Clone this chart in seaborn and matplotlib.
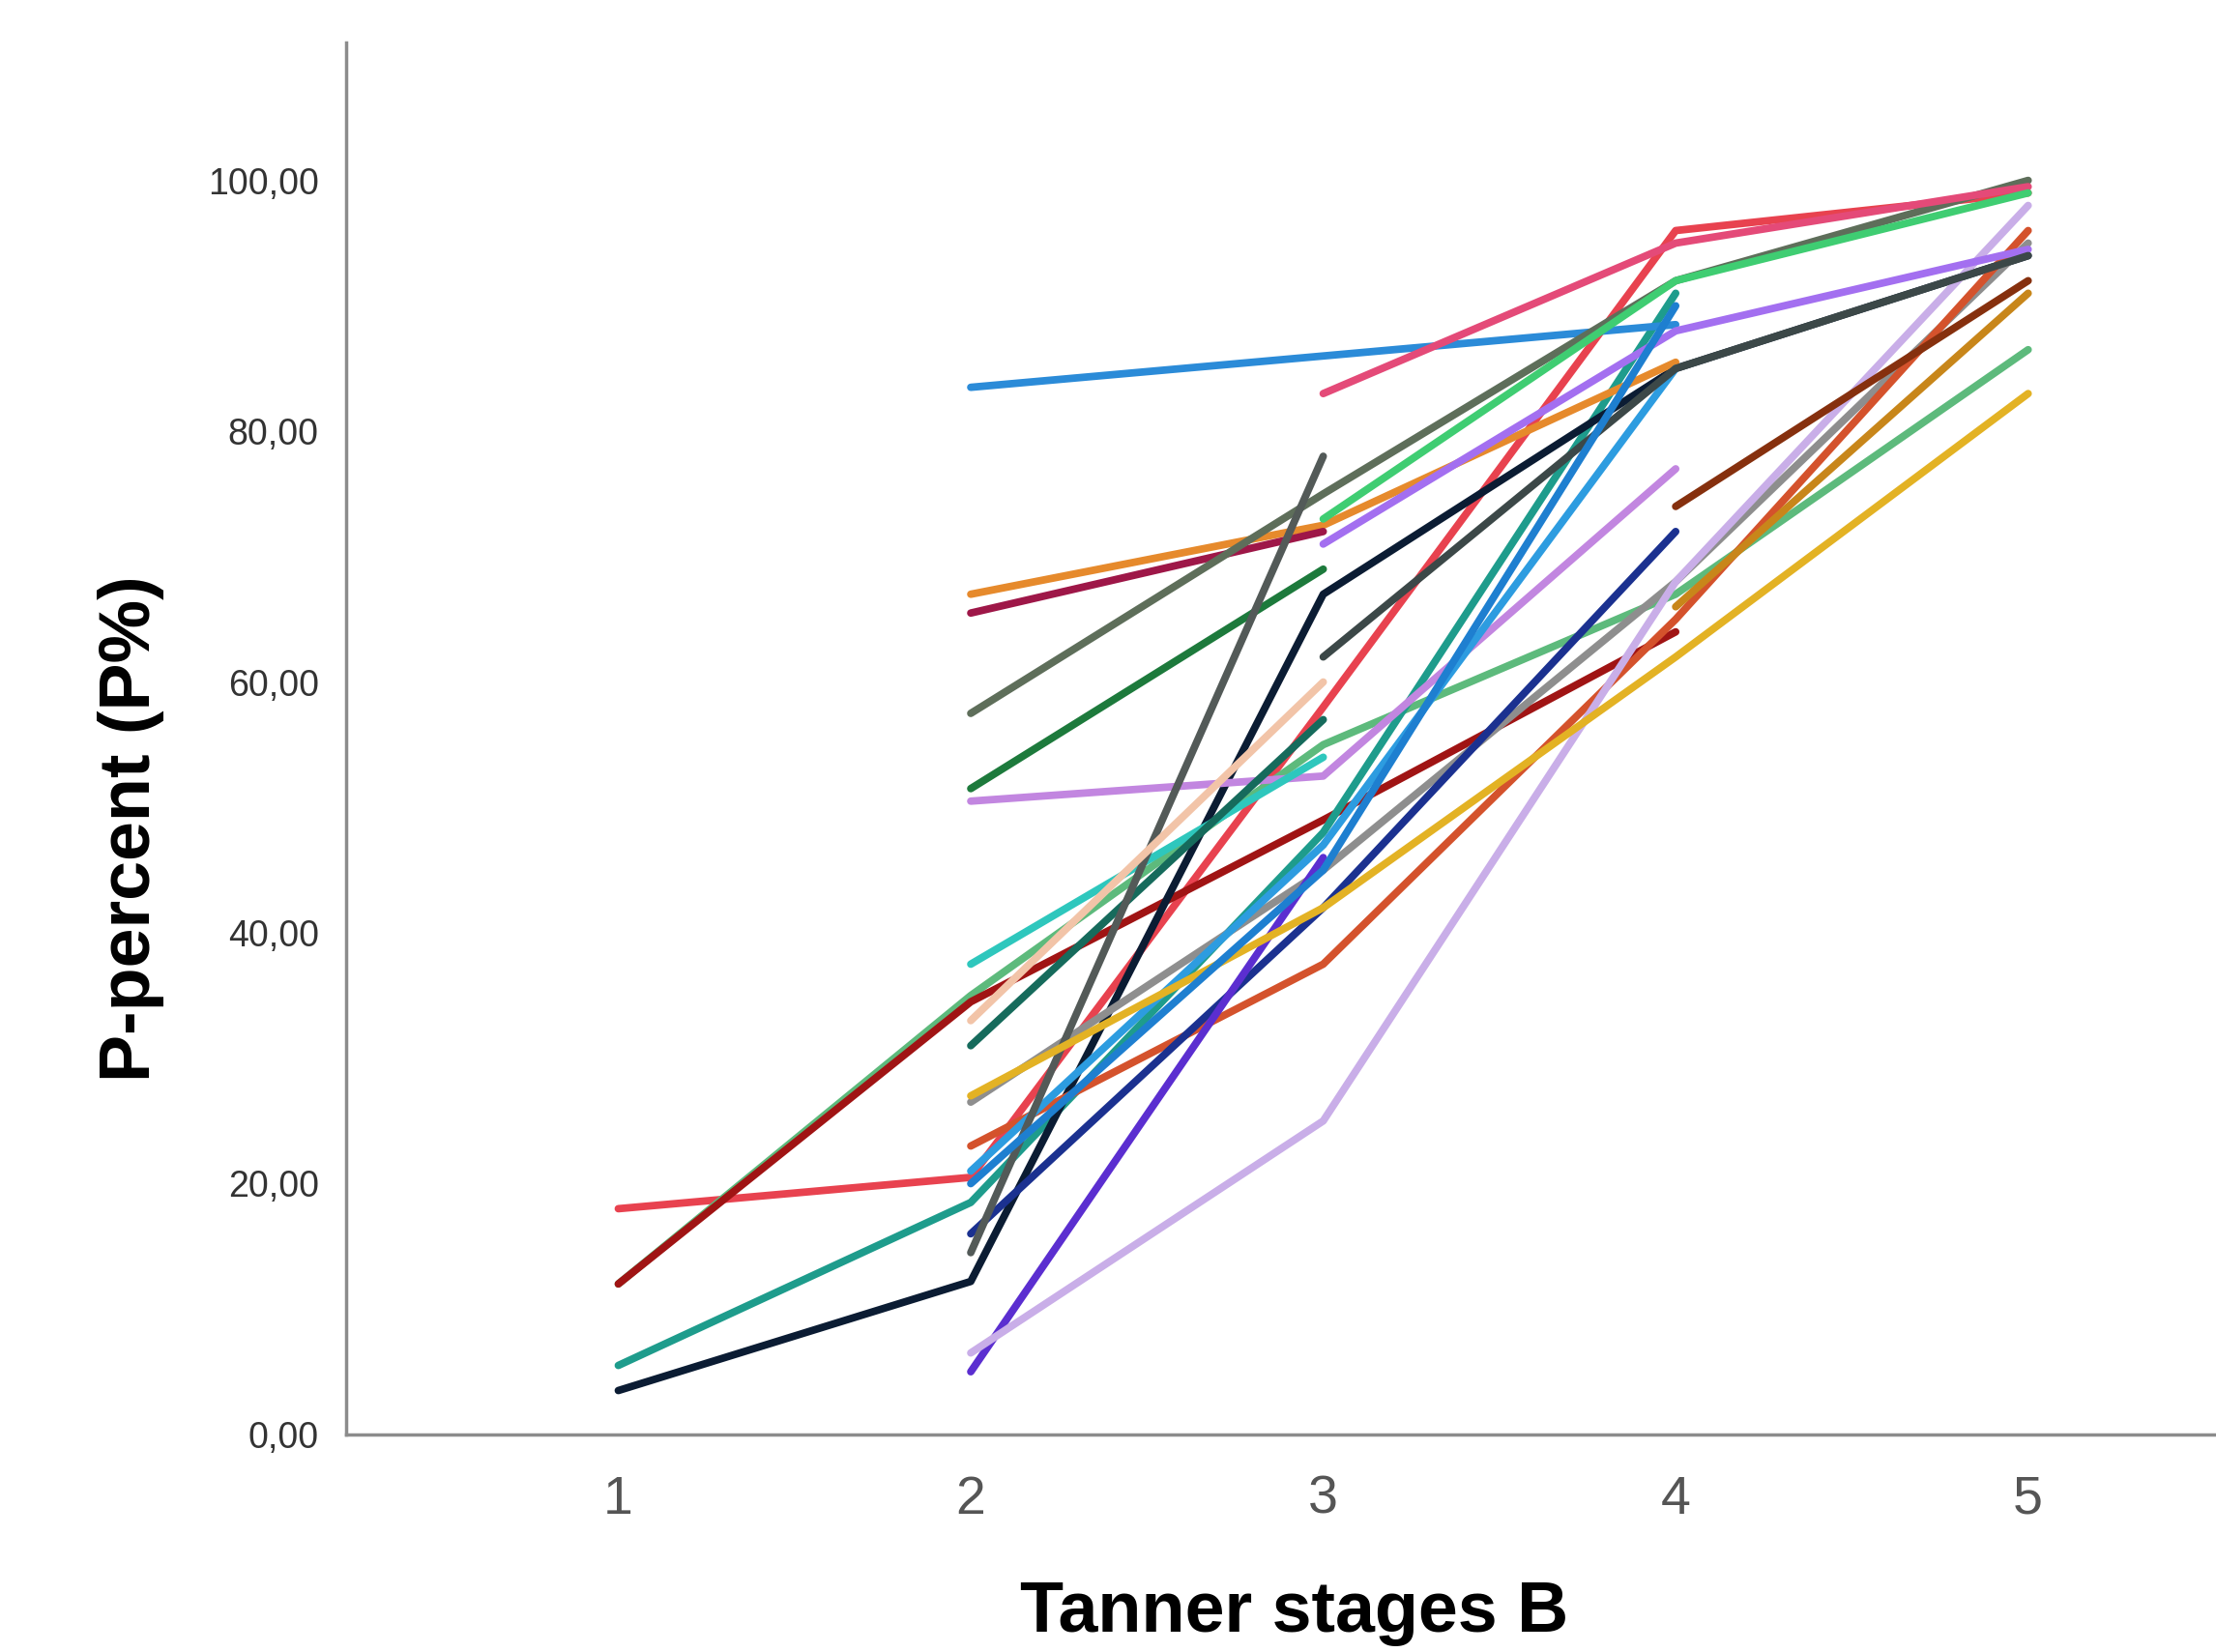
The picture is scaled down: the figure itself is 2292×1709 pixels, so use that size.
import numpy as np
import pandas as pd
import matplotlib
matplotlib.use("Agg")
import matplotlib.pyplot as plt
import seaborn as sns

nan = np.nan

# Tanner stage on x, one list of P% per girl (nan = stage not observed)
stages = [1, 2, 3, 4, 5]

s01 = [18.0, 20.5, 58.0, 96.0, 99.0]
s02 = [12.0, 35.0, 55.0, 67.0, 86.5]
s03 = [12.0, 34.5, 49.0, 64.0, nan]
s04 = [5.5, 18.5, 48.0, 91.0, nan]
s05 = [3.5, 12.2, 67.0, 85.0, 94.0]
s06 = [nan, 83.5, nan, 88.5, nan]
s07 = [nan, 67.0, 72.5, 85.5, nan]
s08 = [nan, 65.5, 72.0, nan, nan]
s09 = [nan, 57.5, 75.0, 92.0, 100.0]
s10 = [nan, 51.5, 69.0, nan, nan]
s11 = [nan, 50.5, 52.5, 77.0, nan]
s12 = [nan, 37.5, 54.0, nan, nan]
s13 = [nan, 31.0, 57.0, nan, nan]
s14 = [nan, 26.5, 45.0, 68.0, 95.0]
s15 = [nan, 23.0, 37.5, 65.0, 96.0]
s16 = [nan, 21.0, 47.0, 85.0, nan]
s17 = [nan, 16.0, 42.0, 72.0, nan]
s18 = [nan, 14.5, 78.0, nan, nan]
s19 = [nan, 5.0, 46.0, nan, nan]
s20 = [nan, 6.5, 25.0, 68.0, 98.0]
s21 = [nan, nan, 83.0, 95.0, 99.5]
s22 = [nan, nan, 73.0, 92.0, 99.0]
s23 = [nan, nan, nan, 74.0, 92.0]
s24 = [nan, 27.0, 42.0, 62.0, 83.0]
s25 = [nan, nan, 71.0, 88.0, 94.5]
s26 = [nan, nan, 62.0, 85.0, 94.0]
s27 = [nan, nan, nan, 66.0, 91.0]
s29 = [nan, 20.0, 45.0, 90.0, nan]
s30 = [nan, 33.0, 60.0, nan, nan]

subjects = [s01, s02, s03, s04, s05, s06, s07, s08, s09, s10, s11, s12, s13, s14,
            s15, s16, s17, s18, s19, s20, s21, s22, s23, s24, s25, s26, s27, s29, s30]

line_colors = ["#e8424f", "#5dba7c", "#a01414", "#1e9c8c", "#0b1c33", "#2b8bd8",
               "#e68a2c", "#9e1748", "#5e6e5a", "#1d7a3c", "#c286e0", "#2ec7bd",
               "#166b5c", "#8e8e8e", "#d4522c", "#2d9ce0", "#1b3190", "#535a58",
               "#5b2ed0", "#c9aee8", "#e44a78", "#3fcd72", "#86300e", "#e3b224",
               "#a36ff0", "#3c4848", "#c8861a", "#1e7fd0", "#f2c4a8"]

ytick_values = [0, 20, 40, 60, 80, 100]
ytick_labels = ["0,00", "20,00", "40,00", "60,00", "80,00", "100,00"]

# long format, dropping unobserved stages so each line bridges gaps
rows = []
for i, vals in enumerate(subjects):
    for st, v in zip(stages, vals):
        if not np.isnan(v):
            rows.append({"subject": f"s{i:02d}", "stage": st, "p": v})
df = pd.DataFrame(rows)

sns.set_style("white")
plt.rcParams["font.family"] = ["Liberation Sans", "DejaVu Sans"]

fig = plt.figure(figsize=(22.92, 17.09), dpi=100)
ax = fig.add_axes([0.156, 0.1317, 0.844, 0.8426])

sns.lineplot(data=df, x="stage", y="p", hue="subject",
             palette=line_colors, linewidth=5.6, legend=False, ax=ax,
             estimator=None, sort=True)

ax.set_xlim(0.2265, 5.533)
ax.set_ylim(0, 111)
ax.set_xticks(stages)
ax.set_xticklabels([str(s) for s in stages], fontsize=40, color="#555555")
ax.set_yticks(ytick_values)
ax.set_yticklabels(ytick_labels, fontsize=27, color="#333333")
ax.tick_params(axis="both", length=0)
ax.tick_params(axis="x", pad=30)
ax.tick_params(axis="y", pad=20)

for side in ["top", "right"]:
    ax.spines[side].set_visible(False)
for side in ["left", "bottom"]:
    ax.spines[side].set_color("#8c8c8c")
    ax.spines[side].set_linewidth(2.5)

ax.set_xlabel("Tanner stages B", fontsize=53, fontweight="bold", color="black")
ax.set_ylabel("P-percent (P%)", fontsize=53, fontweight="bold", color="black")
ax.xaxis.set_label_coords(0.507, -0.104)
ax.yaxis.set_label_coords(-0.097, 0.435)

fig.savefig("out.png", dpi=100)
